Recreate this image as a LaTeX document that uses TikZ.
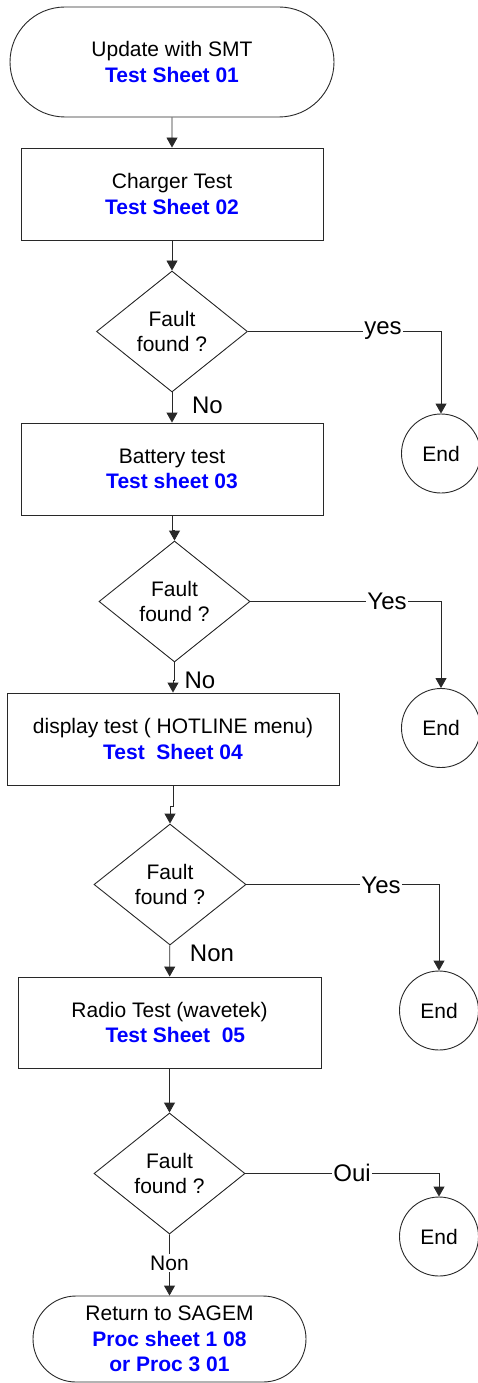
\documentclass[tikz,border=0pt]{standalone}
\usepackage{fontspec}
\setmainfont{Liberation Sans}
\usetikzlibrary{shapes.geometric,shapes.misc,arrows.meta}
\definecolor{sheetblue}{RGB}{0,0,255}
\definecolor{linec}{RGB}{40,40,40}
\newcommand\shtxt[1]{{\color{sheetblue}\bfseries #1}}
\begin{document}
\begin{tikzpicture}[x=1pt,y=-1pt,
  every node/.style={font=\fontsize{21}{25.5}\selectfont, align=center, text=black},
  term/.style={draw=linec, line width=0.9pt, rounded rectangle, inner sep=0pt},
  proc/.style={draw=linec, line width=0.9pt, rectangle, inner sep=0pt},
  dec/.style={draw=linec, line width=0.9pt, diamond, inner sep=0pt, minimum width=151pt, minimum height=121pt},
  endc/.style={draw=linec, line width=0.9pt, circle, minimum size=79pt, inner sep=0pt},
  conn/.style={draw=linec, line width=0.9pt, -{Triangle[length=10pt,width=11pt]}},
  lbl/.style={font=\fontsize{24}{28}\selectfont, inner sep=1.5pt},
  lblw/.style={lbl, fill=white},
]
\useasboundingbox (0,0) rectangle (478,1383);

% nodes
\node[term, minimum width=324pt, minimum height=110pt] (start) at (172,62) {Update with SMT\\\shtxt{Test Sheet 01}};
\node[proc, minimum width=302pt, minimum height=92pt] (b1) at (172,194) {Charger Test\\\shtxt{Test Sheet 02}};
\node[dec] (d1) at (172,331.5) {Fault\\found ?};
\node[endc] (e1) at (441,453.5) {End};
\node[proc, minimum width=302pt, minimum height=92pt] (b2) at (172,469) {Battery test\\\shtxt{Test sheet 03}};
\node[dec] (d2) at (174.5,601.5) {Fault\\found ?};
\node[endc] (e2) at (441,728) {End};
\node[proc, minimum width=332pt, minimum height=92pt] (b3) at (173,739) {display test ( HOTLINE menu)\\\shtxt{Test\ \ Sheet 04}};
\node[dec, minimum width=152pt] (d3) at (170,884.5) {Fault\\found ?};
\node[endc] (e3) at (439,1010.5) {End};
\node[proc, minimum width=303pt, minimum height=91pt] (b4) at (169.5,1022.5) {Radio Test (wavetek)\\\shtxt{\ \ Test Sheet\ \ 05}};
\node[dec] (d4) at (169.5,1173.5) {Fault\\found ?};
\node[endc] (e4) at (439,1236.5) {End};
\node[term, minimum width=273pt, minimum height=86pt] (fin) at (169.5,1339) {Return to SAGEM\\\shtxt{Proc sheet 1 08}\\\shtxt{or Proc 3 01}};

% connectors
\draw[conn] (start) -- (b1);
\draw[conn] (b1) -- (d1);
\draw[conn] (d1) -- (b2);
\draw[conn] (d1.east) -| (e1.north);
\draw[conn] (b2.south) |- ([yshift=10pt]d2.north) -- (d2.north);
\draw[conn] (d2.east) -| (e2.north);
\draw[conn] (d2.south) |- ([yshift=12pt]b3.north) -- (b3.north);
\draw[conn] (b3.south) |- ([yshift=17pt]d3.north) -- (d3.north);
\draw[conn] (d3.east) -| (e3.north);
\draw[conn] (d3) -- (b4);
\draw[conn] (b4) -- (d4);
\draw[conn] (d4.east) -| (e4.north);
\draw[conn] (d4) -- (fin);

% labels
\node[lblw] (l1) at (383,331) {yes};
\node[lbl] (l2) at (207.5,405) {No};
\node[lblw] (l3) at (387,601) {Yes};
\node[lbl] (l4) at (200,680) {No};
\node[lblw] (l5) at (381,885) {Yes};
\node[lbl] (l6) at (212,953) {Non};
\node[lblw] (l7) at (352,1173) {Oui};
\node[lblw, font=\fontsize{21}{25}\selectfont] (l8) at (169.5,1263) {Non};
\end{tikzpicture}
\end{document}
